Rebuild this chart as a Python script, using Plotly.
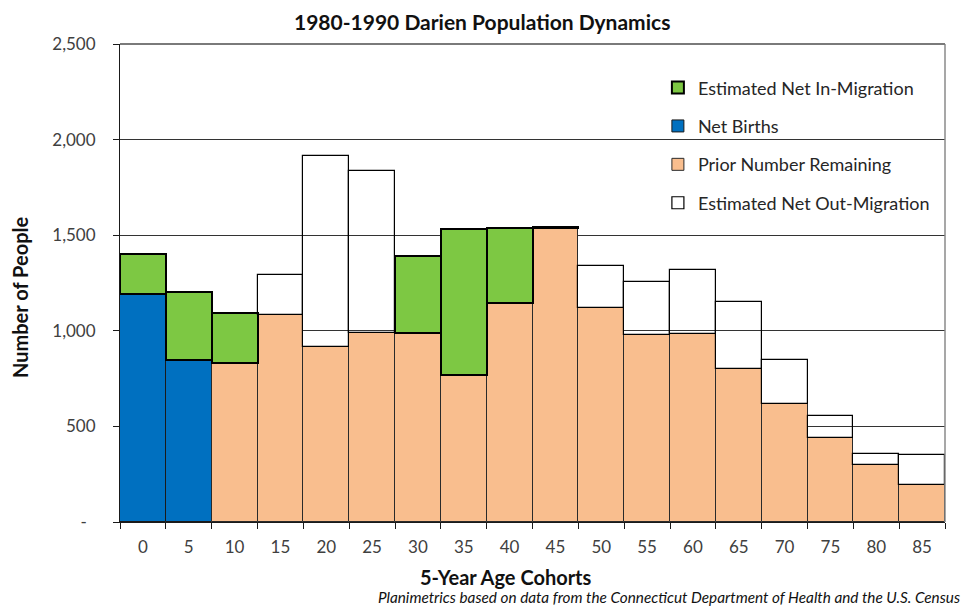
"""1980-1990 Darien population dynamics by 5-year cohort."""

import plotly.graph_objects as go

COHORTS = ["0", "5", "10", "15", "20", "25", "30", "35", "40", "45",
           "50", "55", "60", "65", "70", "75", "80", "85"]

NET_BIRTHS = [1190, 848, None, None, None, None, None, None, None, None,
              None, None, None, None, None, None, None, None]
PRIOR_REMAINING = [None, None, 833, 1083, 914, 987, 987, 770, 1144, 1536,
                   1121, 977, 983, 800, 615, 439, 298, 194]
NET_IN_MIGRATION = [214, 353, 258, None, None, None, 402, 762, 395, 6,
                    None, None, None, None, None, None, None, None]
NET_OUT_MIGRATION = [None, None, None, 210, 1002, 847, None, None, None, None,
                     219, 277, 333, 349, 232, 117, 59, 158]

Y_TICKS = [0, 500, 1000, 1500, 2000, 2500]
Y_TICK_TEXT = ["-\u00a0\u00a0", "500", "1,000", "1,500", "2,000", "2,500"]

COLORS = {
    "births": "#0070c0",
    "prior": "#f9be8e",
    "in": "#7dc843",
    "grid": "#333333",
    "text": "#404040",
}
FONT = "Lato, 'Open Sans', sans-serif"

# page is rendered with an 8px body margin, so the figure is a bit smaller
W, H = 966, 600
M = dict(l=112, r=29, t=36, b=86)
PLOT_X0, PLOT_X1, PLOT_Y0, PLOT_Y1 = 120, 945, 44, 522  # page pixels

# the top of the base column (births or prior remaining) for each cohort
base_top = [b if b is not None else p for b, p in zip(NET_BIRTHS, PRIOR_REMAINING)]

fig = go.Figure()
fig.add_trace(go.Bar(
    x=COHORTS, y=NET_BIRTHS, name="Net Births", legendrank=2, legendgroup="b",
    marker=dict(color=COLORS["births"], line=dict(color="#1a1a1a", width=1)),
))
fig.add_trace(go.Bar(
    x=COHORTS, y=PRIOR_REMAINING, name="Prior Number Remaining", legendrank=3,
    legendgroup="p",
    marker=dict(color=COLORS["prior"], line=dict(color="#2a2a2a", width=1)),
))
fig.add_trace(go.Bar(
    x=COHORTS, y=NET_IN_MIGRATION, base=base_top, name="Estimated Net In-Migration",
    legendrank=1, legendgroup="i",
    marker=dict(color=COLORS["in"], line=dict(color="#000000", width=2)),
))
fig.add_trace(go.Bar(
    x=COHORTS, y=NET_OUT_MIGRATION, base=base_top, name="Estimated Net Out-Migration",
    legendrank=4, legendgroup="o",
    marker=dict(color="rgba(255,255,255,0)", line=dict(color="#000000", width=1.2)),
))

fig.update_layout(
    width=W, height=H,
    margin=M,
    barmode="overlay",
    bargap=0,
    paper_bgcolor="white",
    plot_bgcolor="white",
    font=dict(family=FONT, size=17, color=COLORS["text"]),
    showlegend=True,
    legend=dict(
        x=0.652, y=0.947, xanchor="left", yanchor="top",
        bgcolor="rgba(0,0,0,0)", borderwidth=0,
        font=dict(size=18, color="#262626"),
        tracegroupgap=12, traceorder="grouped",
    ),
)
fig.update_xaxes(
    type="category",
    showgrid=False,
    showline=True, linecolor="#1a1a1a", linewidth=1,
    ticks="outside", tickson="boundaries", ticklen=6, tickcolor="#1a1a1a",
    ticklabelstandoff=10,
    tickfont=dict(size=17, color=COLORS["text"]),
)
fig.update_yaxes(
    range=[0, 2500],
    tickvals=Y_TICKS, ticktext=Y_TICK_TEXT,
    showgrid=True, gridcolor=COLORS["grid"], gridwidth=1,
    zeroline=False,
    showline=True, linecolor="#1a1a1a", linewidth=1,
    ticks="outside", ticklen=6, tickcolor="#1a1a1a",
    ticklabelstandoff=14,
    tickfont=dict(size=17, color=COLORS["text"]),
)

# right and top frame of the plot area
fig.add_shape(type="line", xref="paper", yref="paper", x0=1, x1=1, y0=0, y1=1,
              line=dict(color="#8a8a8a", width=1.5))
fig.add_shape(type="line", xref="paper", yref="paper", x0=0, x1=1, y0=1, y1=1,
              line=dict(color="#7a7a7a", width=2))


def px_x(x):
    return (x - PLOT_X0) / (PLOT_X1 - PLOT_X0)


def px_y(y):
    return (PLOT_Y1 - y) / (PLOT_Y1 - PLOT_Y0)


fig.add_annotation(
    text="<b>1980-1990 Darien Population Dynamics</b>", xref="paper", yref="paper",
    x=px_x(482), y=px_y(21), showarrow=False, xanchor="center", yanchor="middle",
    font=dict(size=21, color="#111111"),
)
fig.add_annotation(
    text="<b>Number of People</b>", xref="paper", yref="paper",
    x=px_x(20), y=px_y(298), showarrow=False, textangle=-90,
    xanchor="center", yanchor="middle", font=dict(size=20, color="#111111"),
)
fig.add_annotation(
    text="<b>5-Year Age Cohorts</b>", xref="paper", yref="paper",
    x=px_x(506), y=px_y(577), showarrow=False, xanchor="center", yanchor="middle",
    font=dict(size=20, color="#111111"),
)
fig.add_annotation(
    text="<i>Planimetrics based on data from the Connecticut Department of Health and the U.S. Census</i>",
    xref="paper", yref="paper", x=px_x(962), y=px_y(597), showarrow=False,
    xanchor="right", yanchor="middle", font=dict(size=15.3, color="#111111"),
)

fig.write_html("out.html")
